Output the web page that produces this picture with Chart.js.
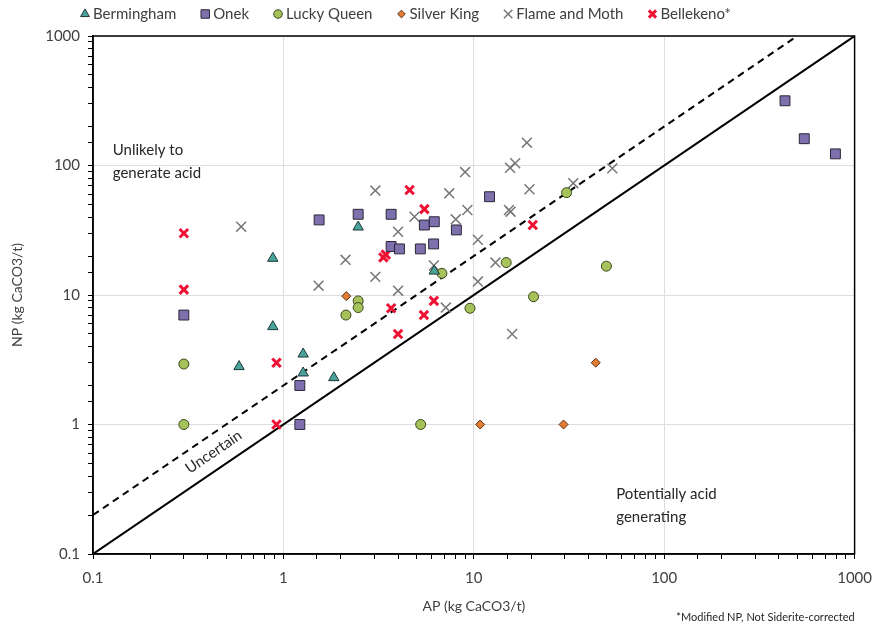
<!DOCTYPE html>
<html>
<head>
<meta charset="utf-8">
<script src="https://cdn.jsdelivr.net/npm/chart.js@4.4.1/dist/chart.umd.min.js"></script>
<style>
html, body { margin: 0; padding: 0; background: #fff; }
</style>
</head>
<body>
<canvas id="chart" width="882" height="629"></canvas>
<script>
// AP (x) and NP (y) in kg CaCO3/t
const bermAP = [0.88, 0.88, 0.585, 1.27, 1.27, 1.84, 2.47, 6.2];
const bermNP = [19.2, 5.7, 2.8, 3.5, 2.5, 2.3, 33.5, 15.3];

const onekAP = [0.3, 1.22, 1.22, 1.54, 2.47, 3.68, 3.68, 4.07, 5.24, 5.5, 6.2, 6.15, 8.1, 12.1, 431, 544, 793];
const onekNP = [7, 2, 1, 38, 42, 42, 23.7, 22.7, 22.7, 34.7, 36.8, 24.8, 31.8, 57.4, 316, 161, 123];

const luckyAP = [0.3, 0.3, 2.13, 2.47, 2.47, 5.26, 6.8, 9.55, 14.8, 20.6, 30.7, 49.7];
const luckyNP = [2.93, 1, 7, 9, 8, 1, 14.7, 7.9, 17.8, 9.7, 61.7, 16.7];

const silverAP = [2.14, 10.8, 29.6, 43.7];
const silverNP = [9.8, 1, 1, 3];

const flameAP = [0.6, 3.04, 2.12, 3.04, 1.53, 4.0, 4.0, 4.88, 6.17, 7.13, 8.04, 9.25, 7.43, 9.0, 10.5, 10.5, 13, 15.3, 15.6, 15.5, 16.5, 19, 19.6, 15.9, 33.3, 53.4];
const flameNP = [33.7, 64, 18.7, 13.8, 11.8, 30.8, 10.8, 40.2, 16.9, 8, 38.4, 45.3, 61, 89, 26.7, 12.7, 17.8, 45.3, 44, 96, 104, 150, 65.6, 5, 73, 95];

const belleAP = [0.3, 0.3, 0.92, 0.92, 3.35, 3.45, 4.6, 5.5, 3.68, 6.17, 5.47, 4.0, 20.4];
const belleNP = [30, 11, 3, 1, 19.5, 20.5, 64.7, 46, 7.9, 9, 7, 5, 34.7];

// NP = AP and NP = 2 AP
const oneToOneAP = [0.1, 1000];
const oneToOneNP = [0.1, 1000];
const twoToOneAP = [0.1, 500];
const twoToOneNP = [0.2, 1000];

const decades = [0.1, 1, 10, 100, 1000];

function pts(xs, ys) {
    return xs.map((x, i) => ({ x: x, y: ys[i] }));
}
function isDecade(v) {
    return decades.some(d => Math.abs(v - d) / d < 1e-6);
}

const font = "Lato";
const textColor = "#404040";

const series = [
    { label: "Bermingham", ap: bermAP, np: bermNP, style: "triangle", radius: 6, bg: "#4aa39a", border: "#1e3836", bw: 1 },
    { label: "Onek", ap: onekAP, np: onekNP, style: "rect", radius: 7, bg: "#7d70ad", border: "#2a2838", bw: 1 },
    { label: "Lucky Queen", ap: luckyAP, np: luckyNP, style: "circle", radius: 5, bg: "#a6c25a", border: "#3a4619", bw: 1 },
    { label: "Silver King", ap: silverAP, np: silverNP, style: "rectRot", radius: 4.5, bg: "#e27c32", border: "#5a2f12", bw: 1 },
    { label: "Flame and Moth", ap: flameAP, np: flameNP, style: "crossRot", radius: 7, bg: "#777", border: "#777", bw: 1.5 },
    { label: "Bellekeno*", ap: belleAP, np: belleNP, style: "crossRot", radius: 6, bg: "#ee1133", border: "#ee1133", bw: 3 }
];

const datasets = series.map(s => ({
    type: "scatter",
    label: s.label,
    data: pts(s.ap, s.np),
    pointStyle: s.style,
    pointRadius: s.radius,
    pointHoverRadius: s.radius,
    pointBackgroundColor: s.bg,
    pointBorderColor: s.border,
    pointBorderWidth: s.bw,
    order: 1
}));
datasets.push({
    type: "line", label: "1:1", data: pts(oneToOneAP, oneToOneNP),
    borderColor: "#000", borderWidth: 2, pointRadius: 0, fill: false, order: 5
});
datasets.push({
    type: "line", label: "2:1", data: pts(twoToOneAP, twoToOneNP),
    borderColor: "#000", borderWidth: 2, borderDash: [7, 5], pointRadius: 0, fill: false, order: 5
});

// legend, frame, region labels, footnote
const extras = {
    id: "extras",
    beforeDatasetsDraw(chart) {
        const ctx = chart.ctx;
        const x = chart.scales.x, y = chart.scales.y;
        ctx.save();
        ctx.fillStyle = "#262626";
        ctx.font = "15px " + font;
        ctx.textBaseline = "middle";
        ctx.textAlign = "left";
        const ux = x.getPixelForValue(0.127);
        ctx.fillText("Unlikely to", ux, 150);
        ctx.fillText("generate acid", ux, 173);
        const px = x.getPixelForValue(56);
        ctx.fillText("Potentially acid", px, 494);
        ctx.fillText("generating", px, 517);
        // "Uncertain" along the 1:1 line
        const ang = Math.atan2(y.getPixelForValue(10) - y.getPixelForValue(1), x.getPixelForValue(10) - x.getPixelForValue(1));
        const cx = x.getPixelForValue(0.43), cy = y.getPixelForValue(0.43) - 20;
        ctx.translate(cx, cy);
        ctx.rotate(ang);
        ctx.textAlign = "center";
        ctx.fillText("Uncertain", 0, 0);
        ctx.restore();
    },
    afterDraw(chart) {
        const ctx = chart.ctx;
        const a = chart.chartArea;
        ctx.save();
        ctx.strokeStyle = "#000";
        ctx.lineWidth = 1.5;
        ctx.strokeRect(a.left, a.top, a.right - a.left, a.bottom - a.top);

        // legend
        ctx.font = "15px " + font;
        ctx.textBaseline = "middle";
        ctx.textAlign = "left";
        let lx = 80;
        const ly = 14;
        series.forEach(s => {
            ctx.fillStyle = s.bg;
            ctx.strokeStyle = s.border;
            ctx.lineWidth = s.bw;
            const r = s.style === "rect" ? 6 : s.radius * 0.85;
            if (Chart.helpers && Chart.helpers.drawPoint) {
                Chart.helpers.drawPoint(ctx, { pointStyle: s.style, radius: r, borderWidth: s.bw, rotation: 0 }, lx + 5, ly);
            }
            ctx.fillStyle = textColor;
            ctx.fillText(s.label, lx + 13, ly);
            lx += 13 + ctx.measureText(s.label).width + 24;
        });

        ctx.font = "11px " + font;
        ctx.textAlign = "right";
        ctx.fillStyle = "#262626";
        ctx.fillText("*Modified NP, Not Siderite-corrected", a.right, 617);
        ctx.restore();
    }
};

function axis(titleText, isX) {
    return {
        type: "logarithmic",
        min: 0.1,
        max: 1000,
        afterFit: isX ? (s => { s.height = 75; }) : (s => { s.width = 93; }),
        ticks: {
            autoSkip: false,
            maxRotation: 0,
            padding: isX ? 10 : 8,
            color: textColor,
            font: { family: font, size: 15 },
            callback: v => isDecade(v) ? String(v) : ""
        },
        grid: {
            color: c => (c.tick && isDecade(c.tick.value)) ? "#dedede" : "rgba(0,0,0,0)",
            tickColor: "#000",
            tickLength: 5,
            lineWidth: 1
        },
        border: { color: "#000", width: 1.5 },
        title: {
            display: true,
            text: titleText,
            color: textColor,
            font: { family: font, size: 14 },
            padding: isX ? { top: 4, bottom: 14 } : { top: 9, bottom: 4 }
        }
    };
}

const chart = new Chart(document.querySelector("#chart"), {
    data: { datasets: datasets },
    options: {
        responsive: false,
        animation: false,
        devicePixelRatio: 1,
        layout: { padding: { top: 36, right: 22, bottom: 0, left: 0 } },
        plugins: {
            legend: { display: false },
            tooltip: { enabled: false }
        },
        scales: {
            x: axis("AP (kg CaCO3/t)", true),
            y: axis("NP (kg CaCO3/t)", false)
        }
    },
    plugins: [extras]
});
</script>
</body>
</html>
